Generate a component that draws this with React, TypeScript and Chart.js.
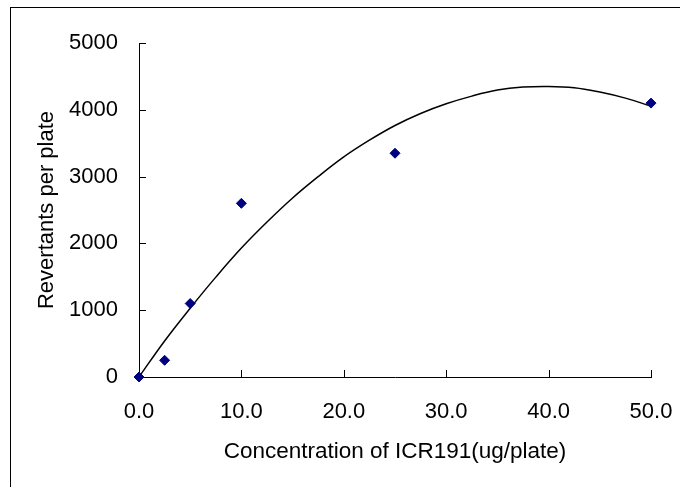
import React, { useEffect, useRef } from 'react';
import { Chart, registerables } from 'chart.js';

Chart.register(...registerables);

// Measured data points
const concentrations = [0, 2.5, 5, 10, 25, 50];
const revertants = [0, 250, 1100, 2600, 3350, 4100];

// Trendline values
const trendX = [0, 2.5, 5, 7.5, 10, 12.5, 15, 17.5, 20, 22.5, 25, 27.5, 30, 32.5, 35, 37.5, 40, 42.5, 45, 47.5, 50];
const trendY = [0, 540, 1030, 1495, 1930, 2320, 2680, 3000, 3295, 3545, 3765, 3945, 4090, 4205, 4295, 4340, 4350, 4330, 4265, 4175, 4055];

const xTickLabels = ['0.0', '10.0', '20.0', '30.0', '40.0', '50.0'];
const yTickLabels = ['0', '1000', '2000', '3000', '4000', '5000'];

const xTitle = 'Concentration of ICR191(ug/plate)';
const yTitle = 'Revertants per plate';

const FONT = "'Liberation Sans', Arial, sans-serif";

const innerTicks = {
  id: 'innerTicks',
  beforeDatasetsDraw(chart: any) {
    const { ctx, chartArea, scales } = chart;
    ctx.save();
    ctx.strokeStyle = '#000';
    ctx.lineWidth = 1;
    ctx.beginPath();
    scales.x.ticks.forEach((t: any) => {
      const px = Math.round(scales.x.getPixelForValue(t.value)) + 0.5;
      ctx.moveTo(px, chartArea.bottom);
      ctx.lineTo(px, chartArea.bottom - 7);
    });
    scales.y.ticks.forEach((t: any) => {
      const py = Math.round(scales.y.getPixelForValue(t.value)) + 0.5;
      ctx.moveTo(chartArea.left, py);
      ctx.lineTo(chartArea.left + 7, py);
    });
    ctx.stroke();
    ctx.restore();
  },
  afterDraw(chart: any) {
    const { ctx } = chart;
    ctx.save();
    ctx.strokeStyle = '#000';
    ctx.lineWidth = 1;
    ctx.strokeRect(10.5, 7.5, 2000, 2000);
    ctx.restore();
  },
};

export default function App() {
  const ref = useRef<HTMLCanvasElement>(null);

  useEffect(() => {
    if (!ref.current) return;
    const chart = new Chart(ref.current, {
      type: 'scatter',
      data: {
        datasets: [
          {
            label: 'Revertants',
            data: concentrations.map((x, i) => ({ x, y: revertants[i] })),
            pointStyle: 'rectRot',
            pointRadius: 5,
            pointBorderWidth: 1,
            backgroundColor: '#000080',
            borderColor: '#000080',
            showLine: false,
            clip: false,
          },
          {
            label: 'Trend',
            data: trendX.map((x, i) => ({ x, y: trendY[i] })),
            showLine: true,
            borderColor: '#000',
            borderWidth: 1.5,
            pointRadius: 0,
            tension: 0.4,
            fill: false,
          },
        ],
      } as any,
      options: {
        responsive: false,
        animation: false,
        devicePixelRatio: 1,
        layout: { padding: { left: 0, top: 43, right: 29, bottom: 0 } },
        plugins: {
          legend: { display: false },
          tooltip: { enabled: false },
        },
        scales: {
          x: {
            type: 'linear',
            min: 0,
            max: 50,
            afterFit: (s: any) => {
              s.height = 110;
              s.paddingLeft = 0;
              s.paddingRight = 0;
            },
            grid: { display: false, drawTicks: false },
            border: { display: true, color: '#000', width: 1 },
            ticks: {
              stepSize: 10,
              padding: 22,
              color: '#000',
              font: { family: FONT, size: 22 },
              callback: (_v: any, i: number) => xTickLabels[i],
              maxRotation: 0,
            },
            title: {
              display: true,
              text: xTitle,
              color: '#000',
              font: { family: FONT, size: 22.5 },
              padding: { top: 0, bottom: 22 },
            },
          },
          y: {
            type: 'linear',
            min: 0,
            max: 5000,
            afterFit: (s: any) => {
              s.width = 139;
              s.paddingTop = 0;
              s.paddingBottom = 0;
            },
            grid: { display: false, drawTicks: false },
            border: { display: true, color: '#000', width: 1 },
            ticks: {
              stepSize: 1000,
              padding: 21,
              color: '#000',
              font: { family: FONT, size: 22 },
              callback: (_v: any, i: number) => yTickLabels[i],
            },
            title: {
              display: true,
              text: yTitle,
              color: '#000',
              font: { family: FONT, size: 22 },
              padding: { top: 34, bottom: 0 },
            },
          },
        },
      } as any,
      plugins: [innerTicks],
    });
    return () => chart.destroy();
  }, []);

  return (
    <div style={{ position: 'fixed', left: 0, top: 0, width: 680, height: 487, background: '#fff' }}>
      <canvas ref={ref} width={680} height={487} style={{ display: 'block' }} />
    </div>
  );
}
